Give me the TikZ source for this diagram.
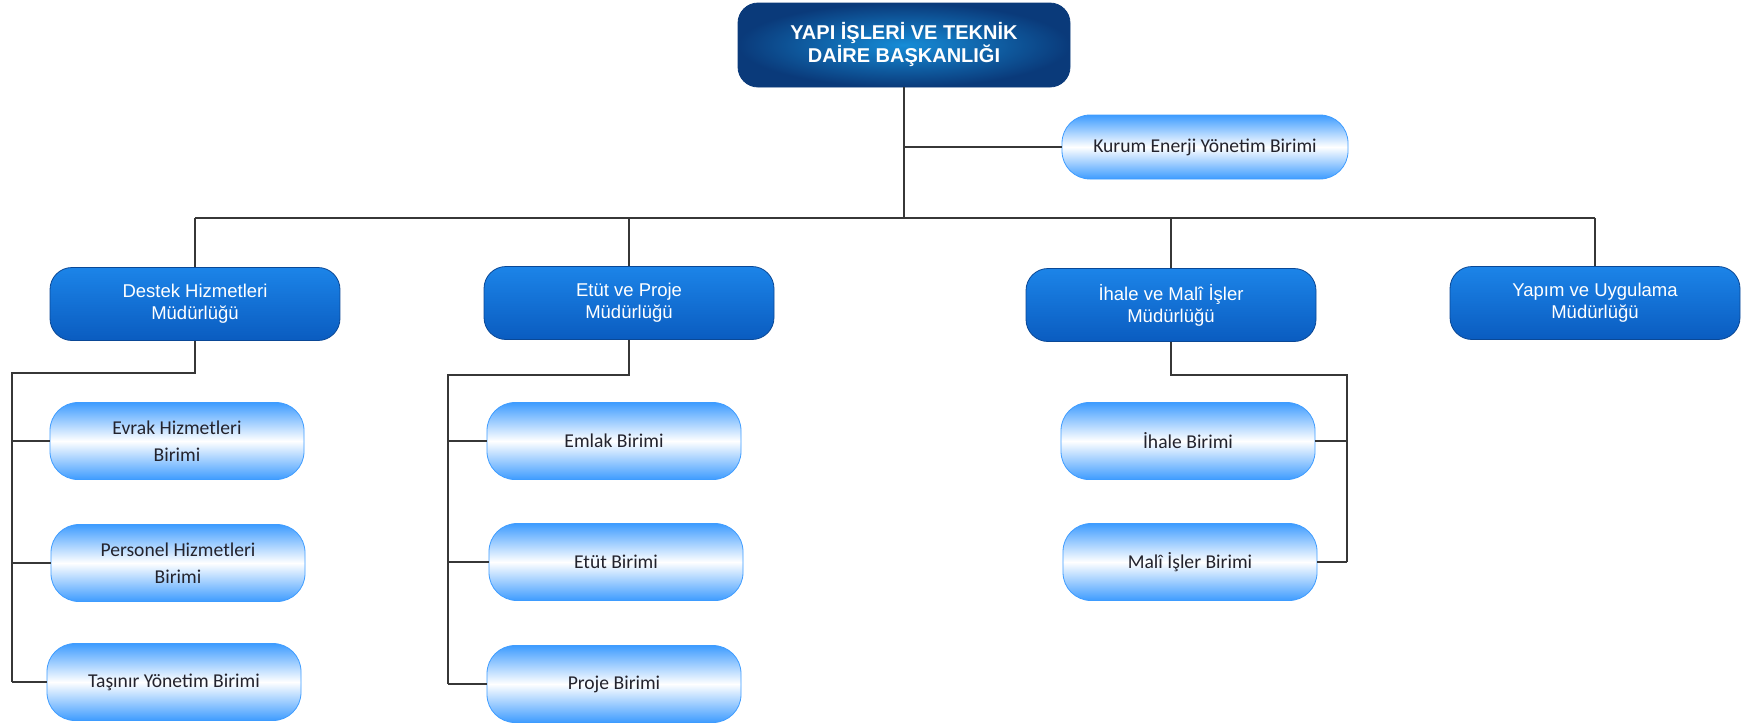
\documentclass[tikz,border=0pt]{standalone}
\usepackage{fontspec}
\setmainfont{Liberation Sans}
\newfontfamily\birimfont{Carlito}
\usetikzlibrary{calc}

\definecolor{navyDark}{RGB}{10,58,122}
\definecolor{navyLight}{RGB}{22,140,215}
\definecolor{mudTop}{RGB}{28,132,232}
\definecolor{mudBottom}{RGB}{10,92,192}
\definecolor{mudEdge}{RGB}{10,72,150}
\definecolor{birimBlue}{RGB}{62,156,255}
\definecolor{birimText}{RGB}{35,35,45}
\definecolor{lineGray}{RGB}{55,55,55}

\begin{document}
\begin{tikzpicture}[x=0.5pt, y=-0.5pt,
		baskanlik/.style={rounded corners=10pt, inner color=navyLight, outer color=navyDark, draw=navyDark, minimum width=166pt, minimum height=42pt, text=white, align=center, font=\bfseries\fontsize{10}{11.5}\selectfont},
		mudurluk/.style={rounded corners=11pt, top color=mudTop, bottom color=mudBottom, draw=mudEdge, minimum width=145pt, minimum height=36.5pt, text=white, align=center, font=\fontsize{9.25}{11}\selectfont},
		birim/.style={rounded corners=14pt, top color=birimBlue, bottom color=birimBlue, middle color=white, draw=birimBlue, minimum width=127pt, minimum height=38.5pt, text=birimText, align=center, font=\birimfont\fontsize{9.8}{13.5}\selectfont},
		baglanti/.style={draw=lineGray, line width=0.8pt}]

	\useasboundingbox (0,0) rectangle (1744,725);

	% top
	\node [baskanlik] (daire) at (904,45) {YAPI İŞLERİ VE TEKNİK\\DAİRE BAŞKANLIĞI};
	\node [birim, minimum width=143pt, minimum height=32pt] (enerji) at (1205,147) {Kurum Enerji Yönetim Birimi};

	% mudurlukler
	\node [mudurluk] (destek) at (195,304) {Destek Hizmetleri\\Müdürlüğü};
	\node [mudurluk] (etut) at (629,303) {Etüt ve Proje\\Müdürlüğü};
	\node [mudurluk] (ihale) at (1171,305) {İhale ve Malî İşler\\Müdürlüğü};
	\node [mudurluk] (yapim) at (1595,303) {Yapım ve Uygulama\\Müdürlüğü};

	% birimler
	\node [birim] (evrak) at (177,441) {Evrak Hizmetleri\\Birimi};
	\node [birim] (personel) at (178,563) {Personel Hizmetleri\\Birimi};
	\node [birim] (tasinir) at (174,682) {Taşınır Yönetim Birimi};

	\node [birim] (emlak) at (614,441) {Emlak Birimi};
	\node [birim] (etutbirim) at (616,562) {Etüt Birimi};
	\node [birim] (proje) at (614,684) {Proje Birimi};

	\node [birim] (ihalebirim) at (1188,441) {İhale Birimi};
	\node [birim] (mali) at (1190,562) {Malî İşler Birimi};

	% baglantilar
	\coordinate (bus) at (904,218);
	\coordinate (destekRail) at (12,373);
	\coordinate (etutRail) at (448,375);
	\coordinate (ihaleRail) at (1347,375);

	\begin{scope}[baglanti]
		\draw (daire.south) -- (bus);
		\draw (daire.south |- enerji) -- (enerji.west);
		\draw (destek |- bus) -- (yapim |- bus);
		\foreach \m in {destek, etut, ihale, yapim}
			\draw (\m.north) -- (\m |- bus);

		\draw (destek.south) |- (destekRail) -- (destekRail |- tasinir);
		\foreach \b in {evrak, personel, tasinir}
			\draw (destekRail |- \b) -- (\b.west);

		\draw (etut.south) |- (etutRail) -- (etutRail |- proje);
		\foreach \b in {emlak, etutbirim, proje}
			\draw (etutRail |- \b) -- (\b.west);

		\draw (ihale.south) |- (ihaleRail) -- (ihaleRail |- mali);
		\foreach \b in {ihalebirim, mali}
			\draw (ihaleRail |- \b) -- (\b.east);
	\end{scope}

\end{tikzpicture}
\end{document}
